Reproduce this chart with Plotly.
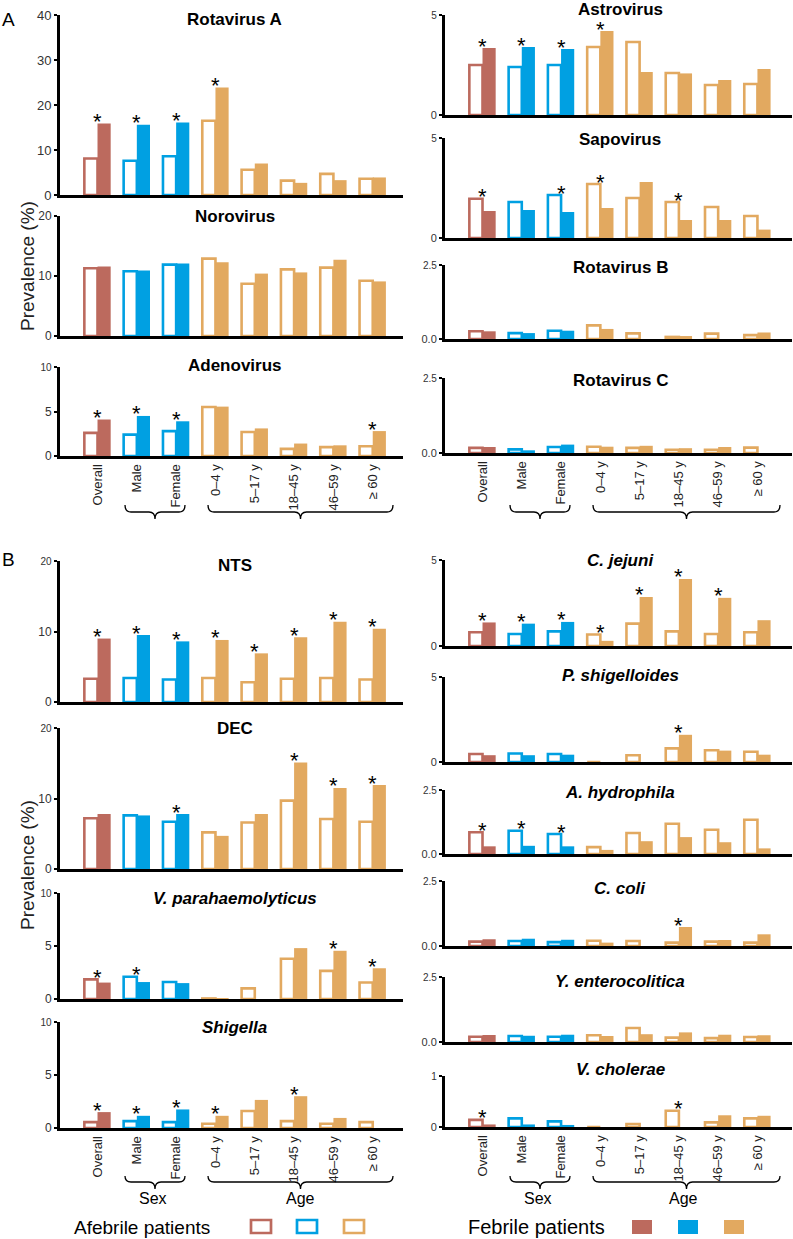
import plotly.graph_objects as go

W, H = 793, 1239
FONT = "Liberation Sans, Arial, sans-serif"

categories = ["Overall", "Male", "Female", "0–4 y", "5–17 y", "18–45 y", "46–59 y", "≥ 60 y"]
RED, BLUE, TAN = "#BC6A5E", "#00A0E2", "#E2A960"
group_colors = [RED, BLUE, BLUE, TAN, TAN, TAN, TAN, TAN]

# ---------------- Panel A: viruses (prevalence, %) ----------------
rotavirus_a_afebrile = [8.1, 7.6, 8.6, 16.5, 5.6, 3.2, 4.7, 3.6]
rotavirus_a_febrile = [15.9, 15.6, 16.1, 23.9, 7.0, 2.7, 3.3, 3.9]
rotavirus_a_sig = [1, 1, 1, 1, 0, 0, 0, 0]

norovirus_afebrile = [11.3, 10.8, 11.9, 12.9, 8.7, 11.1, 11.4, 9.2]
norovirus_febrile = [11.6, 10.9, 12.1, 12.3, 10.4, 10.6, 12.7, 9.1]
norovirus_sig = [0, 0, 0, 0, 0, 0, 0, 0]

adenovirus_afebrile = [2.6, 2.4, 2.8, 5.5, 2.7, 0.8, 1.0, 1.1]
adenovirus_febrile = [4.1, 4.5, 3.9, 5.55, 3.1, 1.4, 1.2, 2.8]
adenovirus_sig = [1, 1, 1, 0, 0, 0, 0, 1]

astrovirus_afebrile = [2.5, 2.4, 2.5, 3.4, 3.65, 2.1, 1.5, 1.55]
astrovirus_febrile = [3.35, 3.4, 3.3, 4.2, 2.15, 2.08, 1.75, 2.3]
astrovirus_sig = [1, 1, 1, 1, 0, 0, 0, 0]

sapovirus_afebrile = [1.96, 1.8, 2.15, 2.7, 2.0, 1.8, 1.55, 1.1]
sapovirus_febrile = [1.35, 1.4, 1.3, 1.5, 2.8, 0.9, 0.9, 0.42]
sapovirus_sig = [1, 0, 1, 1, 0, 1, 0, 0]

rotavirus_b_afebrile = [0.26, 0.2, 0.28, 0.46, 0.19, 0.07, 0.18, 0.13]
rotavirus_b_febrile = [0.26, 0.2, 0.28, 0.34, 0.0, 0.1, 0.0, 0.22]
rotavirus_b_sig = [0, 0, 0, 0, 0, 0, 0, 0]

rotavirus_c_afebrile = [0.17, 0.12, 0.2, 0.21, 0.17, 0.11, 0.11, 0.18]
rotavirus_c_febrile = [0.2, 0.09, 0.28, 0.21, 0.24, 0.16, 0.2, 0.0]
rotavirus_c_sig = [0, 0, 0, 0, 0, 0, 0, 0]

# ---------------- Panel B: bacteria (prevalence, %) ----------------
nts_afebrile = [3.3, 3.4, 3.2, 3.4, 2.8, 3.3, 3.4, 3.2]
nts_febrile = [9.0, 9.5, 8.6, 8.8, 6.9, 9.2, 11.4, 10.4]
nts_sig = [1, 1, 1, 1, 1, 1, 1, 1]

dec_afebrile = [7.2, 7.6, 6.7, 5.2, 6.6, 9.7, 7.1, 6.7]
dec_febrile = [7.8, 7.6, 7.8, 4.7, 7.8, 15.1, 11.5, 11.9]
dec_sig = [0, 0, 1, 0, 0, 1, 1, 1]

vpara_afebrile = [1.85, 2.1, 1.6, 0.05, 1.0, 3.8, 2.65, 1.55]
vpara_febrile = [1.55, 1.6, 1.5, 0.05, 0.0, 4.8, 4.55, 2.9]
vpara_sig = [1, 1, 0, 0, 0, 0, 1, 1]

shigella_afebrile = [0.55, 0.65, 0.55, 0.4, 1.6, 0.65, 0.4, 0.55]
shigella_febrile = [1.5, 1.15, 1.75, 1.15, 2.65, 3.0, 0.95, 0.0]
shigella_sig = [1, 1, 1, 1, 0, 1, 0, 0]

cjejuni_afebrile = [0.8, 0.7, 0.85, 0.67, 1.3, 0.85, 0.7, 0.8]
cjejuni_febrile = [1.37, 1.3, 1.4, 0.3, 2.85, 3.9, 2.8, 1.5]
cjejuni_sig = [1, 1, 1, 1, 1, 1, 1, 0]

pshig_afebrile = [0.47, 0.5, 0.47, 0.0, 0.4, 0.8, 0.69, 0.6]
pshig_febrile = [0.4, 0.4, 0.43, 0.0, 0.0, 1.6, 0.67, 0.43]
pshig_sig = [0, 0, 0, 0, 0, 1, 0, 0]

ahydro_afebrile = [0.85, 0.91, 0.78, 0.27, 0.82, 1.18, 0.95, 1.34]
ahydro_febrile = [0.3, 0.32, 0.3, 0.16, 0.5, 0.66, 0.46, 0.22]
ahydro_sig = [1, 1, 1, 0, 0, 0, 0, 0]

ccoli_afebrile = [0.17, 0.19, 0.15, 0.2, 0.19, 0.13, 0.17, 0.13]
ccoli_febrile = [0.26, 0.28, 0.24, 0.13, 0.0, 0.73, 0.23, 0.45]
ccoli_sig = [0, 0, 0, 0, 0, 1, 0, 0]

yent_afebrile = [0.2, 0.23, 0.2, 0.26, 0.54, 0.17, 0.15, 0.19]
yent_febrile = [0.27, 0.24, 0.28, 0.23, 0.3, 0.37, 0.28, 0.26]
yent_sig = [0, 0, 0, 0, 0, 0, 0, 0]

vchol_afebrile = [0.14, 0.17, 0.11, 0.0, 0.06, 0.32, 0.09, 0.17]
vchol_febrile = [0.05, 0.05, 0.04, 0.0, 0.0, 0.0, 0.23, 0.22]
vchol_sig = [1, 0, 0, 0, 0, 1, 0, 0]

# ---------------- layout spec for each panel ----------------
# (title, afebrile, febrile, sig, ymax, tickvals, ticktext, column, top_px, zero_px, x labels, title_y_px, tick font)
panels = [
    ("<b>Rotavirus A</b>", rotavirus_a_afebrile, rotavirus_a_febrile, rotavirus_a_sig, 40, [0, 10, 20, 30, 40], ["0", "10", "20", "30", "40"], "L", 15, 195, False, 20, 13),
    ("<b>Norovirus</b>", norovirus_afebrile, norovirus_febrile, norovirus_sig, 20, [0, 10, 20], ["0", "10", "20"], "L", 216, 336, False, 216, 12),
    ("<b>Adenovirus</b>", adenovirus_afebrile, adenovirus_febrile, adenovirus_sig, 10, [0, 5, 10], ["0", "5", "10"], "L", 367, 456, True, 366, 12),
    ("<b>Astrovirus</b>", astrovirus_afebrile, astrovirus_febrile, astrovirus_sig, 5, [0, 5], ["0", "5"], "R", 15, 115, False, 10, 10),
    ("<b>Sapovirus</b>", sapovirus_afebrile, sapovirus_febrile, sapovirus_sig, 5, [0, 5], ["0", "5"], "R", 138, 238, False, 140, 10),
    ("<b>Rotavirus B</b>", rotavirus_b_afebrile, rotavirus_b_febrile, rotavirus_b_sig, 2.5, [0, 2.5], ["0.0", "2.5"], "R", 265, 339, False, 267, 10),
    ("<b>Rotavirus C</b>", rotavirus_c_afebrile, rotavirus_c_febrile, rotavirus_c_sig, 2.5, [0, 2.5], ["0.0", "2.5"], "R", 378, 453, True, 380, 10),
    ("<b>NTS</b>", nts_afebrile, nts_febrile, nts_sig, 20, [0, 10, 20], ["0", "10", "20"], "L", 561, 702, False, 565, 12),
    ("<b>DEC</b>", dec_afebrile, dec_febrile, dec_sig, 20, [0, 10, 20], ["0", "10", "20"], "L", 728, 869, False, 728, 12),
    ("<b><i>V. parahaemolyticus</i></b>", vpara_afebrile, vpara_febrile, vpara_sig, 10, [0, 5, 10], ["0", "5", "10"], "L", 893, 999, False, 898, 12),
    ("<b><i>Shigella</i></b>", shigella_afebrile, shigella_febrile, shigella_sig, 10, [0, 5, 10], ["0", "5", "10"], "L", 1022, 1128, True, 1027, 12),
    ("<b><i>C. jejuni</i></b>", cjejuni_afebrile, cjejuni_febrile, cjejuni_sig, 5, [0, 5], ["0", "5"], "R", 560, 646, False, 560, 10),
    ("<b><i>P. shigelloides</i></b>", pshig_afebrile, pshig_febrile, pshig_sig, 5, [0, 5], ["0", "5"], "R", 677, 762, False, 675, 10),
    ("<b><i>A. hydrophila</i></b>", ahydro_afebrile, ahydro_febrile, ahydro_sig, 2.5, [0, 2.5], ["0.0", "2.5"], "R", 790, 854, False, 792, 10),
    ("<b><i>C. coli</i></b>", ccoli_afebrile, ccoli_febrile, ccoli_sig, 2.5, [0, 2.5], ["0.0", "2.5"], "R", 881, 946, False, 888, 10),
    ("<b><i>Y. enterocolitica</i></b>", yent_afebrile, yent_febrile, yent_sig, 2.5, [0, 2.5], ["0.0", "2.5"], "R", 977, 1042, False, 982, 10),
    ("<b><i>V. cholerae</i></b>", vchol_afebrile, vchol_febrile, vchol_sig, 1, [0, 1], ["0", "1"], "R", 1076, 1127, True, 1069, 10),
]

COLS = {
    "L": dict(x0=60, x1=403, r0=-0.954, r1=7.77, tx=235),
    "R": dict(x0=445, x1=792, r0=-0.955, r1=7.88, tx=620),
}

fig = go.Figure()
annotations = []
shapes = []
layout = {}

for k, (title, afeb, feb, sig, ymax, tv, tt, col, top, zero, showx, ty, tfs) in enumerate(panels, start=1):
    c = COLS[col]
    xa, ya = f"x{k}", f"y{k}"
    fig.add_trace(go.Bar(
        x=categories, y=afeb, xaxis=xa, yaxis=ya, name="Afebrile patients",
        marker=dict(color="white", line=dict(color=group_colors, width=2.6)),
        showlegend=False, hoverinfo="skip",
    ))
    fig.add_trace(go.Bar(
        x=categories, y=feb, xaxis=xa, yaxis=ya, name="Febrile patients",
        marker=dict(color=group_colors, line=dict(width=0)),
        showlegend=False, hoverinfo="skip",
    ))
    ttxt = list(tt)
    if k not in (1, 2):
        ttxt[-1] = f"<span style='font-size:{tfs - 2 if col == 'L' else tfs}px'>{tt[-1]}</span>"
    layout[f"xaxis{k}"] = dict(
        domain=[c["x0"] / W, c["x1"] / W], anchor=ya, type="category",
        categoryorder="array", categoryarray=categories,
        range=[c["r0"], c["r1"]], showline=True, linecolor="black", linewidth=3,
        ticks="", showgrid=False, zeroline=False, showticklabels=showx,
        tickangle=-90, tickfont=dict(size=13, color="#222", family=FONT),
        fixedrange=True,
    )
    layout[f"yaxis{k}"] = dict(
        domain=[1 - zero / H, 1 - top / H], anchor=xa, range=[0, ymax],
        tickmode="array", tickvals=tv, ticktext=ttxt,
        showline=True, linecolor="black", linewidth=3,
        ticks="outside", ticklen=3, tickwidth=2, tickcolor="black",
        showgrid=False, zeroline=False,
        tickfont=dict(size=tfs if col == "L" else 11, color="#333", family=FONT),
        fixedrange=True,
    )
    annotations.append(dict(
        text=title, x=c["tx"] / W, y=1 - ty / H, xref="paper", yref="paper",
        showarrow=False, xanchor="center", yanchor="middle",
        font=dict(size=17, color="black", family=FONT),
    ))
    for j, s in enumerate(sig):
        if s:
            annotations.append(dict(
                text="*", x=categories[j], y=max(afeb[j], feb[j]), xref=xa, yref=ya,
                showarrow=False, xanchor="center", yanchor="middle", yshift=2,
                font=dict(size=22, color="black", family=FONT),
            ))


def P(x, y):
    return f"{x / W:.5f},{1 - y / H:.5f}"


def brace(x0, x1, yt, yl, yp, d=6):
    xm = (x0 + x1) / 2
    return (f"M {P(x0, yt)} Q {P(x0, yl)} {P(x0 + d, yl)} L {P(xm - d, yl)} "
            f"Q {P(xm, yl)} {P(xm, yp)} Q {P(xm, yl)} {P(xm + d, yl)} "
            f"L {P(x1 - d, yl)} Q {P(x1, yl)} {P(x1, yt)}")


for (sx0, sx1, ax0, ax1) in [(125, 185, 208, 393), (510, 570, 593, 780)]:
    for (yt, yl, yp) in [(505, 512, 519), (1176, 1182, 1189)]:
        for (a, b) in [(sx0, sx1), (ax0, ax1)]:
            shapes.append(dict(type="path", path=brace(a, b, yt, yl, yp),
                               xref="paper", yref="paper",
                               line=dict(color="black", width=1.3)))

for (x, txt) in [(153, "Sex"), (300, "Age"), (538, "Sex"), (683, "Age")]:
    annotations.append(dict(text=txt, x=x / W, y=1 - 1198 / H, xref="paper", yref="paper",
                            showarrow=False, xanchor="center", yanchor="middle",
                            font=dict(size=16, color="black", family=FONT)))

for (x, y, txt) in [(8, 19, "A"), (8, 559, "B")]:
    annotations.append(dict(text=txt, x=x / W, y=1 - y / H, xref="paper", yref="paper",
                            showarrow=False, xanchor="center", yanchor="middle",
                            font=dict(size=19, color="black", family=FONT)))
for y in (266, 865):
    annotations.append(dict(text="Prevalence (%)", x=27 / W, y=1 - y / H, xref="paper", yref="paper",
                            showarrow=False, xanchor="center", yanchor="middle", textangle=-90,
                            font=dict(size=19, color="#222", family=FONT)))

annotations.append(dict(text="Afebrile patients", x=72 / W, y=1 - 1227 / H, xref="paper", yref="paper",
                        showarrow=False, xanchor="left", yanchor="middle",
                        font=dict(size=19, color="black", family=FONT)))
annotations.append(dict(text="Febrile patients", x=466 / W, y=1 - 1227 / H, xref="paper", yref="paper",
                        showarrow=False, xanchor="left", yanchor="middle",
                        font=dict(size=20, color="black", family=FONT)))
for (x0, col) in [(251, RED), (297, BLUE), (344, TAN)]:
    shapes.append(dict(type="rect", xref="paper", yref="paper",
                       x0=x0 / W, x1=(x0 + 20) / W, y0=1 - 1233 / H, y1=1 - 1220 / H,
                       fillcolor="white", line=dict(color=col, width=2.7)))
for (x0, col) in [(632, RED), (678, BLUE), (724, TAN)]:
    shapes.append(dict(type="rect", xref="paper", yref="paper",
                       x0=x0 / W, x1=(x0 + 20) / W, y0=1 - 1234 / H, y1=1 - 1220 / H,
                       fillcolor=col, line=dict(width=0)))

fig.update_layout(
    width=W, height=H, margin=dict(l=0, r=0, t=0, b=0, autoexpand=False),
    paper_bgcolor="white", plot_bgcolor="white",
    barmode="group", bargap=0.33, bargroupgap=0,
    font=dict(family=FONT, color="black"),
    annotations=annotations, shapes=shapes, showlegend=False,
    **layout,
)

fig.write_html(
    "out.html",
    config={"displayModeBar": False},
    post_script="document.body.style.margin='0';document.body.style.overflow='hidden';",
)
